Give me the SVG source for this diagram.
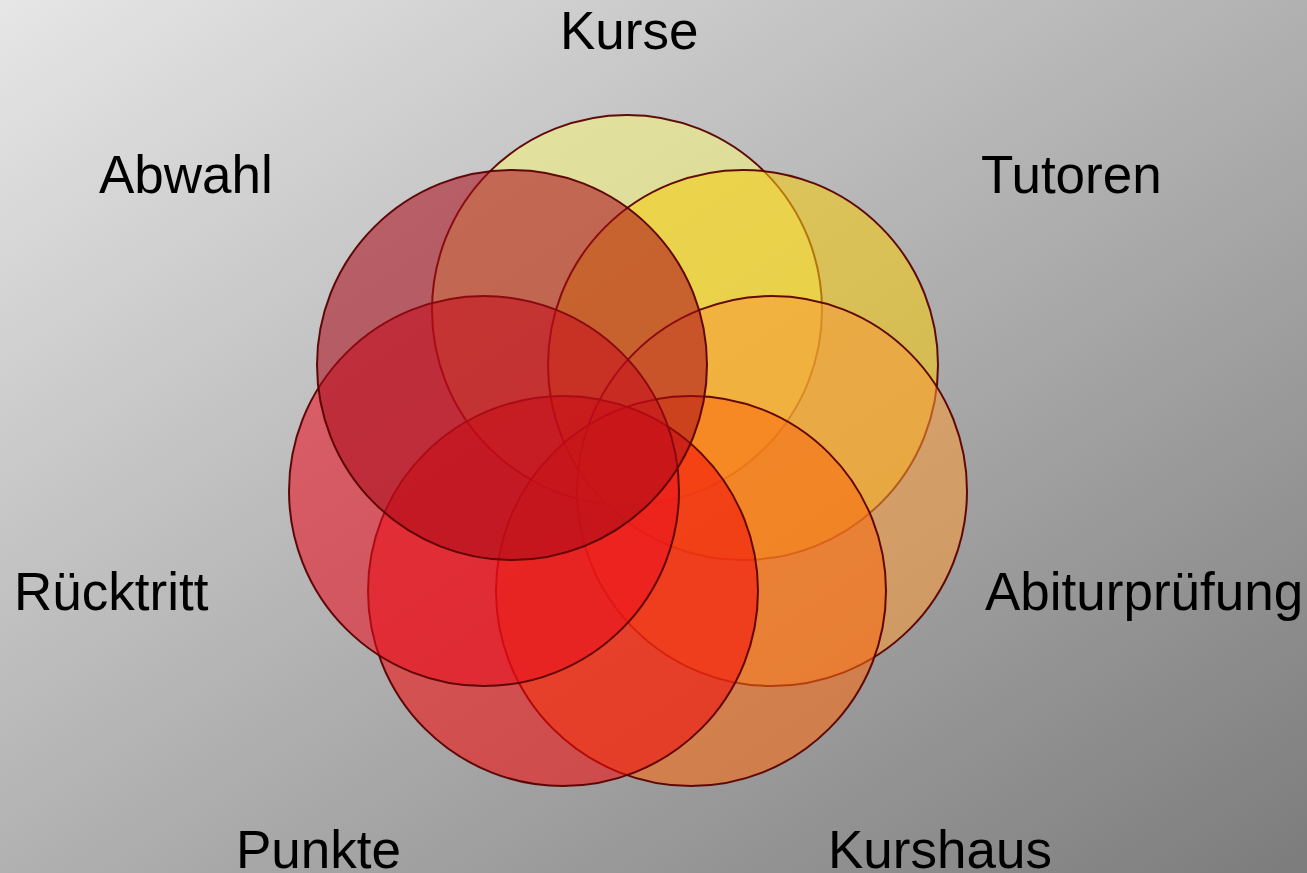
<svg xmlns="http://www.w3.org/2000/svg" width="1307" height="873" viewBox="0 0 1307 873">
<defs>
<linearGradient id="bg" x1="0" y1="0" x2="1" y2="1">
<stop offset="0" stop-color="#e6e6e6"/>
<stop offset="1" stop-color="#7c7c7c"/>
</linearGradient>
<style>
.c{stroke:#5a0000;stroke-width:2;fill-opacity:0.56;stroke-opacity:0.95}
.t{font-family:"Liberation Sans",Arial,sans-serif;font-size:53px;fill:#000}
</style>
</defs>
<rect width="1307" height="873" fill="url(#bg)"/>
<g id="nodes">
<g id="kurse"><circle class="c" cx="627" cy="310" r="195" fill="#f6f47c"/></g>
<g id="tutoren"><circle class="c" cx="743" cy="365" r="195" fill="#f6cc10"/></g>
<g id="abiturpruefung"><circle class="c" cx="772" cy="491" r="195" fill="#f89a38"/></g>
<g id="kurshaus"><circle class="c" cx="691" cy="591" r="195" fill="#fa6a10"/></g>
<g id="punkte"><circle class="c" cx="563" cy="591" r="195" fill="#f20a0a"/></g>
<g id="ruecktritt"><circle class="c" cx="484" cy="491" r="195" fill="#e90f1e"/></g>
<g id="abwahl"><circle class="c" cx="512" cy="365" r="195" fill="#ab0b19"/></g>
</g>
<g id="labels">
<text class="t" x="560" y="49">Kurse</text>
<text class="t" x="99" y="193">Abwahl</text>
<text class="t" x="981" y="193">Tutoren</text>
<text class="t" x="14" y="610">Rücktritt</text>
<text class="t" x="985" y="610">Abiturprüfung</text>
<text class="t" x="236" y="868">Punkte</text>
<text class="t" x="828" y="868">Kurshaus</text>
</g>
<g id="connectors"/>
</svg>
